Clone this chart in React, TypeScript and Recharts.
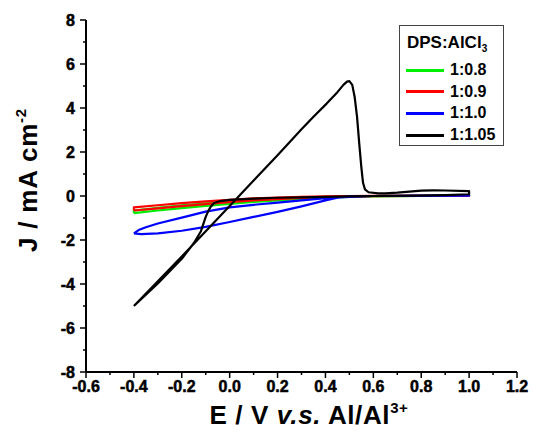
import React from 'react'
import { Line, LineChart, XAxis, YAxis } from 'recharts'

type Pt = { x: number; y: number }

// cyclic voltammograms, one closed loop per DPS:AlCl3 ratio
const ratio08: [number, number][] = [
    [-0.4, -0.78], [-0.3, -0.66], [-0.2, -0.55], [-0.1, -0.45], [0, -0.36], [0.1, -0.27],
    [0.2, -0.2], [0.3, -0.13], [0.4, -0.08], [0.5, -0.04], [0.6, -0.02], [0.8, 0], [1.0, 0.01],
    [1.0, 0.02], [0.8, 0.01], [0.6, -0.01], [0.5, -0.02], [0.4, -0.04], [0.3, -0.08], [0.2, -0.12],
    [0.1, -0.18], [0, -0.25], [-0.1, -0.33], [-0.2, -0.43], [-0.3, -0.54], [-0.4, -0.66], [-0.4, -0.78],
]

const ratio09: [number, number][] = [
    [-0.4, -0.66], [-0.3, -0.56], [-0.2, -0.46], [-0.1, -0.37], [0, -0.28], [0.1, -0.2],
    [0.2, -0.14], [0.3, -0.09], [0.4, -0.05], [0.5, -0.03], [0.6, -0.01], [0.8, 0], [1.0, 0.01],
    [1.0, 0.03], [0.8, 0.02], [0.6, 0.01], [0.5, 0], [0.4, -0.02], [0.3, -0.04], [0.2, -0.07],
    [0.1, -0.11], [0, -0.17], [-0.1, -0.24], [-0.2, -0.32], [-0.3, -0.42], [-0.4, -0.52], [-0.4, -0.66],
]

const ratio10: [number, number][] = [
    [-0.4, -1.7], [-0.37, -1.73], [-0.3, -1.7], [-0.2, -1.58], [-0.1, -1.4], [0, -1.18], [0.1, -0.95],
    [0.2, -0.72], [0.3, -0.47], [0.4, -0.2], [0.45, -0.08], [0.5, -0.02], [0.6, 0], [0.8, 0.01], [1.0, 0.02],
    [1.0, 0.03], [0.8, 0.02], [0.6, 0], [0.5, -0.04], [0.4, -0.1], [0.3, -0.2], [0.2, -0.3], [0.1, -0.4],
    [0, -0.52], [-0.1, -0.71], [-0.2, -0.98], [-0.3, -1.25], [-0.35, -1.42], [-0.38, -1.55], [-0.4, -1.7],
]

const ratio105: [number, number][] = [
    [-0.4, -5.0], [-0.3, -3.88], [-0.2, -2.75], [-0.1, -1.6], [0, -0.45], [0.05, 0.12], [0.1, 0.7],
    [0.2, 1.85], [0.3, 3.03], [0.35, 3.6], [0.405, 4.2], [0.45, 4.72], [0.475, 5.05],
    [0.49, 5.2], [0.5, 5.22], [0.512, 5.05], [0.522, 4.5], [0.532, 3.6], [0.541, 2.4], [0.55, 1.3], [0.557, 0.6],
    [0.565, 0.3], [0.58, 0.17], [0.62, 0.12], [0.65, 0.12], [0.7, 0.15], [0.8, 0.24], [0.85, 0.26],
    [0.9, 0.25], [1.0, 0.22],
    [1.0, 0.08], [0.9, 0.04], [0.8, 0.02], [0.6, 0], [0.5, -0.02], [0.4, -0.04], [0.3, -0.06],
    [0.2, -0.08], [0.1, -0.12], [0, -0.18], [-0.04, -0.23], [-0.065, -0.32], [-0.08, -0.5], [-0.09, -0.7],
    [-0.1, -0.95], [-0.12, -1.6], [-0.15, -2.15], [-0.2, -2.85], [-0.3, -3.98], [-0.4, -5.0],
]

const xTicks = [-0.6, -0.5, -0.4, -0.3, -0.2, -0.1, 0, 0.1, 0.2, 0.3, 0.4, 0.5, 0.6, 0.7, 0.8, 0.9, 1.0, 1.1, 1.2]
const yTicks = [-8, -7, -6, -5, -4, -3, -2, -1, 0, 1, 2, 3, 4, 5, 6, 7, 8]

const series = [
    { name: '1:0.8', color: '#00ee00', data: ratio08 },
    { name: '1:0.9', color: '#ff0000', data: ratio09 },
    { name: '1:1.0', color: '#0000ff', data: ratio10 },
    { name: '1:1.05', color: '#000000', data: ratio105 },
]

const FONT = '"Liberation Sans", Arial, sans-serif'
const bold = { fontFamily: FONT, fontWeight: 700 }

const toPts = (d: [number, number][]): Pt[] => d.map(([x, y]) => ({ x, y }))

const XTick = (props: any) => {
    const { x, y, payload } = props
    const v: number = payload.value
    const major = Math.round(v * 10) % 2 === 0
    return (
        <g>
            <line x1={x} x2={x} y1={y} y2={y + (major ? 6 : 3)} stroke="#000" strokeWidth={1.5} />
            {major && (
                <text x={x} y={y + 20} textAnchor="middle" fontFamily={FONT} fontWeight={700} fontSize={16}
                    fill="#000" stroke="#000" strokeWidth={0.5}>
                    {v.toFixed(1)}
                </text>
            )}
        </g>
    )
}

const YTick = (props: any) => {
    const { x, y, payload } = props
    const v: number = payload.value
    const major = v % 2 === 0
    return (
        <g>
            <line x1={x} x2={x - (major ? 6 : 3)} y1={y} y2={y} stroke="#000" strokeWidth={1.5} />
            {major && (
                <text x={x - 11} y={y + 5.5} textAnchor="end" fontFamily={FONT} fontWeight={700} fontSize={16}
                    fill="#000" stroke="#000" strokeWidth={0.5}>
                    {v}
                </text>
            )}
        </g>
    )
}

const XTitle = () => (
    <text x={309} y={424} textAnchor="middle" style={{ ...bold, fontSize: 26, letterSpacing: 0.6 }} fill="#000">
        E / V <tspan fontStyle="italic">v.s.</tspan> Al/Al
        <tspan fontSize={15} dy={-11}>3+</tspan>
    </text>
)

const YTitle = () => (
    <text transform="translate(37,180) rotate(-90)" textAnchor="middle" style={{ ...bold, fontSize: 26, letterSpacing: 0.8 }} fill="#000">
        J / mA cm<tspan fontSize={15} dy={-11}>-2</tspan>
    </text>
)

const LegendBox = () => (
    <div
        style={{
            position: 'absolute', left: 399, top: 25, width: 105, height: 121, boxSizing: 'border-box',
            border: '1px solid #444', background: '#fff', ...bold, color: '#000',
        }}
    >
        <div style={{ position: 'absolute', left: 7, top: 8, fontSize: 17, lineHeight: '17px', whiteSpace: 'nowrap' }}>
            DPS:AlCl<sub style={{ fontSize: 10, verticalAlign: '-4px' }}>3</sub>
        </div>
        {series.map((s, i) => (
            <div key={s.name} style={{ position: 'absolute', left: 6, top: 36 + i * 21.7, height: 16, display: 'flex', alignItems: 'center' }}>
                <span style={{ display: 'inline-block', width: 38, height: 3, background: s.color }} />
                <span style={{ marginLeft: 6, fontSize: 16, lineHeight: '16px' }}>{s.name}</span>
            </div>
        ))}
    </div>
)

export default function App() {
    return (
        <div style={{ position: 'absolute', left: 0, top: 0, width: 533, height: 438, background: '#fff' }}>
            <LineChart width={533} height={438} margin={{ top: 20, right: 16, bottom: 0, left: 0 }}>
                <XAxis
                    type="number"
                    dataKey="x"
                    domain={[-0.6, 1.2]}
                    ticks={xTicks}
                    interval={0}
                    allowDataOverflow
                    height={66}
                    tickSize={0}
                    tickMargin={0}
                    tickLine={false}
                    tick={<XTick />}
                    axisLine={{ stroke: '#000', strokeWidth: 2 }}
                    label={{ content: () => <XTitle /> }}
                />
                <YAxis
                    type="number"
                    dataKey="y"
                    domain={[-8, 8]}
                    ticks={yTicks}
                    interval={0}
                    allowDataOverflow
                    width={86}
                    tickSize={0}
                    tickMargin={0}
                    tickLine={false}
                    tick={<YTick />}
                    axisLine={{ stroke: '#000', strokeWidth: 2 }}
                    label={{ content: () => <YTitle /> }}
                />
                {series.map(s => (
                    <Line
                        key={s.name}
                        data={toPts(s.data)}
                        dataKey="y"
                        type="linear"
                        stroke={s.color}
                        strokeWidth={2.2}
                        strokeLinejoin="round"
                        dot={false}
                        activeDot={false}
                        isAnimationActive={false}
                    />
                ))}
            </LineChart>
            <LegendBox />
        </div>
    )
}
